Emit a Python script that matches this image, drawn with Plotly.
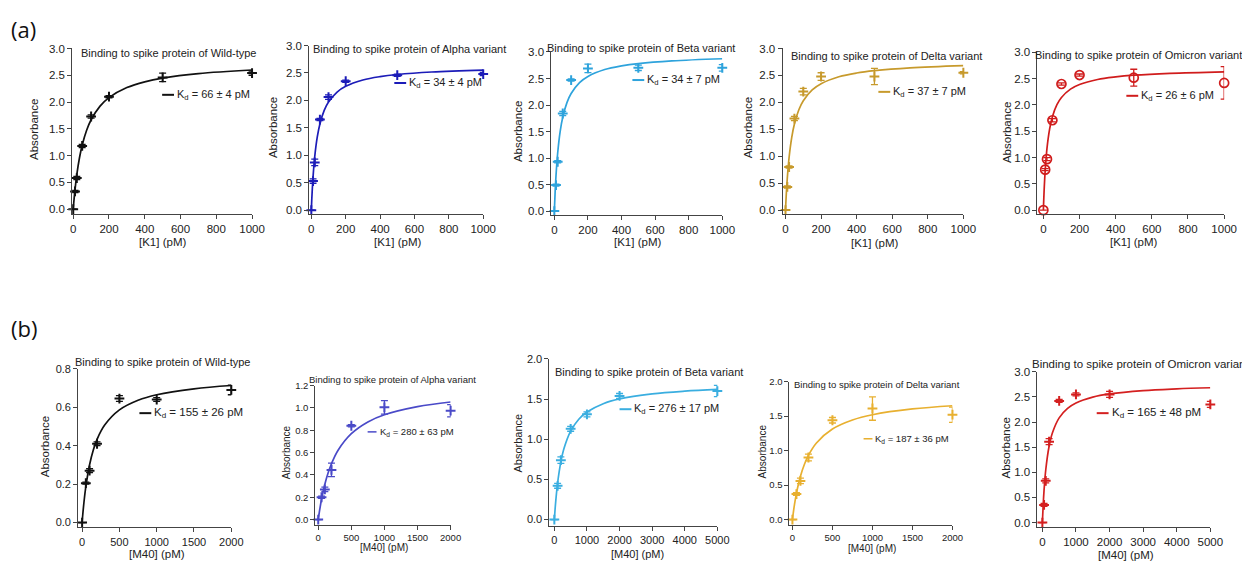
import plotly.graph_objects as go

# page has an 8px body margin, so the figure is drawn 8px smaller and offset
OFF = 8
W, H = 1250 - OFF, 562 - OFF

# ---------------- data ----------------
k1_conc = [0, 10, 20, 50, 100, 200, 500, 1000]
m40_conc_a = [0, 50, 100, 200, 500, 1000, 2000]
m40_conc_b = [0, 100, 200, 500, 1000, 2000, 5000]
m40_conc_c = [0, 50, 100, 200, 500, 1000, 2000, 5000]

wt_k1 = [0, 0.33, 0.58, 1.18, 1.73, 2.10, 2.46, 2.54]
wt_k1_err = [0, 0.02, 0.03, 0.03, 0.03, 0.02, 0.08, 0.04]
alpha_k1 = [0, 0.53, 0.87, 1.65, 2.06, 2.35, 2.46, 2.48]
alpha_k1_err = [0, 0.04, 0.06, 0.02, 0.04, 0.02, 0.02, 0.03]
beta_k1 = [0, 0.49, 0.93, 1.84, 2.47, 2.69, 2.70, 2.70]
beta_k1_err = [0, 0.02, 0.02, 0.04, 0.02, 0.08, 0.05, 0.06]
delta_k1 = [0, 0.43, 0.80, 1.70, 2.20, 2.48, 2.48, 2.55]
delta_k1_err = [0, 0.02, 0.02, 0.04, 0.06, 0.07, 0.15, 0.02]
omicron_k1 = [0, 0.77, 0.97, 1.71, 2.40, 2.57, 2.52, 2.42]
omicron_k1_err = [0, 0.02, 0.03, 0.03, 0.02, 0.02, 0.16, 0.31]

wt_m40 = [0, 0.205, 0.27, 0.41, 0.645, 0.64, 0.69]
wt_m40_err = [0, 0.005, 0.01, 0.01, 0.015, 0.01, 0.025]
alpha_m40 = [0, 0.20, 0.27, 0.445, 0.84, 1.005, 0.975]
alpha_m40_err = [0, 0.01, 0.02, 0.06, 0.01, 0.06, 0.055]
beta_m40 = [0, 0.42, 0.74, 1.13, 1.31, 1.54, 1.60]
beta_m40_err = [0, 0.03, 0.04, 0.03, 0.03, 0.03, 0.07]
delta_m40 = [0, 0.37, 0.56, 0.90, 1.44, 1.61, 1.52]
delta_m40_err = [0, 0.02, 0.04, 0.05, 0.04, 0.17, 0.11]
omicron_m40 = [0, 0.35, 0.83, 1.61, 2.42, 2.55, 2.55, 2.35]
omicron_m40_err = [0, 0.03, 0.04, 0.06, 0.03, 0.03, 0.06, 0.06]

# fitted curves
fit_k1_x = [0, 5, 10, 20, 35, 50, 75, 100, 150, 200, 300, 400, 500, 700, 1000]
fit_wt_k1 = [0, 0.195, 0.364, 0.644, 0.960, 1.194, 1.473, 1.669, 1.924, 2.083, 2.270, 2.378, 2.447, 2.531, 2.598]
fit_alpha_k1 = [0, 0.338, 0.600, 0.978, 1.339, 1.571, 1.817, 1.970, 2.152, 2.256, 2.371, 2.433, 2.472, 2.518, 2.553]
fit_beta_k1 = [0, 0.381, 0.675, 1.100, 1.507, 1.768, 2.044, 2.216, 2.421, 2.538, 2.668, 2.737, 2.781, 2.832, 2.872]
fit_delta_k1 = [0, 0.331, 0.591, 0.975, 1.351, 1.598, 1.862, 2.029, 2.230, 2.346, 2.475, 2.545, 2.588, 2.640, 2.681]
fit_omicron_k1 = [0, 0.435, 0.750, 1.174, 1.549, 1.776, 2.005, 2.143, 2.301, 2.389, 2.485, 2.535, 2.567, 2.603, 2.632]

fit_m40_x2k = [0, 10, 25, 50, 100, 150, 200, 300, 500, 750, 1000, 1500, 2000]
fit_wt_m40 = [0, 0.047, 0.107, 0.187, 0.301, 0.378, 0.433, 0.506, 0.586, 0.636, 0.665, 0.696, 0.713]
fit_alpha_m40 = [0, 0.041, 0.098, 0.182, 0.316, 0.419, 0.500, 0.621, 0.769, 0.874, 0.938, 1.011, 1.053]
fit_delta_m40 = [0, 0.092, 0.213, 0.381, 0.629, 0.803, 0.932, 1.111, 1.313, 1.444, 1.520, 1.604, 1.650]
fit_m40_x5k = [0, 25, 50, 100, 200, 300, 500, 750, 1000, 1500, 2000, 3000, 4000, 5000]
fit_beta_m40 = [0, 0.142, 0.262, 0.455, 0.718, 0.890, 1.101, 1.249, 1.339, 1.443, 1.502, 1.565, 1.599, 1.620]
fit_omicron_m40 = [0, 0.364, 0.644, 1.045, 1.518, 1.787, 2.083, 2.270, 2.378, 2.495, 2.559, 2.626, 2.660, 2.682]

titles = [
    "Binding to spike protein of Wild-type",
    "Binding to spike protein of Alpha variant",
    "Binding to spike protein of Beta variant",
    "Binding to spike protein of Delta variant",
    "Binding to spike protein of Omicron variant",
    "Binding to spike protein of Wild-type",
    "Binding to spike protein of Alpha variant",
    "Binding to spike protein of Beta variant",
    "Binding to spike protein of Delta variant",
    "Binding to spike protein of Omicron variant",
]
kd_labels = ["66 ± 4", "34 ± 4", "34 ± 7", "37 ± 7", "26 ± 6",
             "155 ± 26", "280 ± 63", "276 ± 17", "187 ± 36", "165 ± 48"]
x_titles = ["[K1] (pM)"] * 5 + ["[M40] (pM)"] * 5
y_title = "Absorbance"
panel_tags = ["(a)", "(b)"]

series = [
    (k1_conc, wt_k1, wt_k1_err, fit_k1_x, fit_wt_k1),
    (k1_conc, alpha_k1, alpha_k1_err, fit_k1_x, fit_alpha_k1),
    (k1_conc, beta_k1, beta_k1_err, fit_k1_x, fit_beta_k1),
    (k1_conc, delta_k1, delta_k1_err, fit_k1_x, fit_delta_k1),
    (k1_conc, omicron_k1, omicron_k1_err, fit_k1_x, fit_omicron_k1),
    (m40_conc_a, wt_m40, wt_m40_err, fit_m40_x2k, fit_wt_m40),
    (m40_conc_a, alpha_m40, alpha_m40_err, fit_m40_x2k, fit_alpha_m40),
    (m40_conc_b, beta_m40, beta_m40_err, fit_m40_x5k, fit_beta_m40),
    (m40_conc_a, delta_m40, delta_m40_err, fit_m40_x2k, fit_delta_m40),
    (m40_conc_c, omicron_m40, omicron_m40_err, fit_m40_x5k, fit_omicron_m40),
]

# ---------------- styles & geometry (reference pixels) ----------------
colors = ["#111111", "#1c1cb8", "#2ea3dc", "#c79a2c", "#d01c1c",
          "#111111", "#4a4ac8", "#3aaee0", "#e8b030", "#d42020"]
symbols = ["cross-thin"] * 4 + ["circle-open"] + ["cross-thin"] * 5

# yaxis line x, pixel of x=0, pixel of x max, x max, x dtick,
# pixel of y=0, pixel of y max, y max, y dtick, x axis line y
geom = [
    (71, 72, 253, 1000, 200, 206, 43, 3.0, 0.5, 211),
    (311, 313, 487, 1000, 200, 207, 40, 3.0, 0.5, 211),
    (556, 559, 729, 1000, 200, 208, 46.5, 3.0, 0.5, 212),
    (790, 793, 973, 1000, 200, 207, 43, 3.0, 0.5, 211),
    (1048, 1054, 1237, 1000, 200, 207, 47, 3.0, 0.5, 211),
    (77, 81, 232, 2000, 500, 524, 368, 0.8, 0.2, 529),
    (317, 320, 454, 2000, 500, 521, 385, 1.2, 0.2, 526),
    (554, 559, 724, 5000, 1000, 521, 358, 2.0, 0.5, 527),
    (797, 800, 962, 2000, 500, 521, 381, 2.0, 0.5, 526),
    (1048, 1053, 1223, 5000, 1000, 524, 371, 3.0, 0.5, 529),
]
tick_sizes = [11.5, 11.5, 11.5, 11.5, 11.5, 11, 9.5, 11, 9.5, 11.5]
title_pos = [(78, 48, 11), (313, 44, 11), (550, 43, 11), (797, 51, 11), (1043, 50, 11),
             (72, 361, 11), (309, 379, 9.5), (558, 371, 11), (800, 384, 9.5), (1040, 363, 11.5)]
kd_pos = [(162, 90, 11), (397, 78, 11), (638, 75, 11), (887, 87, 11), (1138, 91, 11),
          (139, 413, 11.5), (370, 432, 9.5), (625, 409, 11), (872, 439, 9.5), (1108, 413, 11.5)]
ytitle_pos = [(33, 125), (275, 123), (522, 127), (755, 123), (1017, 128),
              (43, 447), (288, 453), (522, 443), (770, 452), (1016, 448)]
xtitle_pos = [(162, 239), (400, 239), (643, 239), (883, 240), (1145, 239),
              (157, 556), (387, 549), (643, 556), (881, 550), (1138, 557)]
axis_title_sizes = [11.5] * 5 + [11.5, 10, 11, 10, 11.5]
tag_pos = [(7, 23), (7, 327)]

FONT = "Arial, Liberation Sans, sans-serif"


def px(xp):
    return (xp - OFF) / W


def py(yp):
    return 1 - (yp - OFF) / H


fig = go.Figure()
annotations = []
shapes = []
layout = {}

for i in range(10):
    n = i + 1
    xs, ys, es, fx, fy = series[i]
    c = colors[i]
    yax_px, x0_px, xm_px, xmax, xdt, y0_px, yt_px, ymax, ydt, xax_px = geom[i]
    xscale = (xm_px - x0_px) / xmax
    yscale = (y0_px - yt_px) / ymax
    x_lo = (yax_px - x0_px) / xscale
    y_lo = -(xax_px - y0_px) / yscale
    xname = "x" if n == 1 else f"x{n}"
    yname = "y" if n == 1 else f"y{n}"
    xkey = "xaxis" if n == 1 else f"xaxis{n}"
    ykey = "yaxis" if n == 1 else f"yaxis{n}"

    common = dict(showgrid=False, zeroline=False, showline=True, linecolor="#444444",
                  linewidth=1, ticks="outside", ticklen=4, tickcolor="#444444",
                  tickfont=dict(family=FONT, size=tick_sizes[i], color="#222222"),
                  fixedrange=True)
    layout[xkey] = dict(domain=[px(yax_px), px(xm_px)], range=[x_lo, xmax],
                        anchor=yname, tick0=0, dtick=xdt, **common)
    layout[ykey] = dict(domain=[py(xax_px), py(yt_px)], range=[y_lo, ymax],
                        anchor=xname, tick0=0, dtick=ydt, tickformat=".1f", **common)

    fig.add_trace(go.Scatter(x=fx, y=fy, mode="lines", xaxis=xname, yaxis=yname,
                             line=dict(color=c, width=1.7, shape="spline", smoothing=1.0),
                             showlegend=False, hoverinfo="skip", cliponaxis=False))
    if symbols[i] == "circle-open":
        mk = dict(symbol="circle-open", size=9, color=c, line=dict(width=1.7, color=c))
    else:
        mk = dict(symbol="cross-thin", size=7, color=c, line=dict(width=2, color=c))
    fig.add_trace(go.Scatter(x=xs, y=ys, mode="markers", xaxis=xname, yaxis=yname,
                             marker=mk, cliponaxis=False, showlegend=False,
                             error_y=dict(type="data", array=es, visible=True, color=c,
                                          thickness=1.3, width=3.5)))

    tx, ty, tsz = title_pos[i]
    annotations.append(dict(text=titles[i], x=px(tx), y=py(ty), xref="paper", yref="paper",
                            xanchor="left", yanchor="middle", showarrow=False,
                            font=dict(family=FONT, size=tsz, color="#222222")))
    kx, ky, ksz = kd_pos[i]
    dash_len = 12 if ksz > 10 else 9
    shapes.append(dict(type="line", xref="paper", yref="paper",
                       x0=px(kx), x1=px(kx + dash_len), y0=py(ky), y1=py(ky),
                       line=dict(color=c, width=2 if ksz > 10 else 1.5)))
    annotations.append(dict(text=f"K<sub>d</sub> = {kd_labels[i]} pM",
                            x=px(kx + dash_len + 1), y=py(ky), xref="paper", yref="paper",
                            xanchor="left", yanchor="middle", showarrow=False,
                            font=dict(family=FONT, size=ksz, color="#222222")))
    ax_, ay_ = ytitle_pos[i]
    annotations.append(dict(text=y_title, x=px(ax_), y=py(ay_), xref="paper", yref="paper",
                            xanchor="center", yanchor="middle", textangle=-90, showarrow=False,
                            font=dict(family=FONT, size=axis_title_sizes[i], color="#222222")))
    bx, by = xtitle_pos[i]
    annotations.append(dict(text=x_titles[i], x=px(bx), y=py(by), xref="paper", yref="paper",
                            xanchor="center", yanchor="middle", showarrow=False,
                            font=dict(family=FONT, size=axis_title_sizes[i], color="#222222")))

for tag, (gx, gy) in zip(panel_tags, tag_pos):
    annotations.append(dict(text=tag, x=px(gx), y=py(gy), xref="paper", yref="paper",
                            xanchor="left", yanchor="middle", showarrow=False,
                            font=dict(family="Open Sans, sans-serif", size=22, color="#111111")))

fig.update_layout(width=W, height=H, margin=dict(l=0, r=0, t=0, b=0),
                  paper_bgcolor="white", plot_bgcolor="white",
                  annotations=annotations, shapes=shapes, showlegend=False, **layout)

fig.write_html("out.html", config={"displayModeBar": False})
